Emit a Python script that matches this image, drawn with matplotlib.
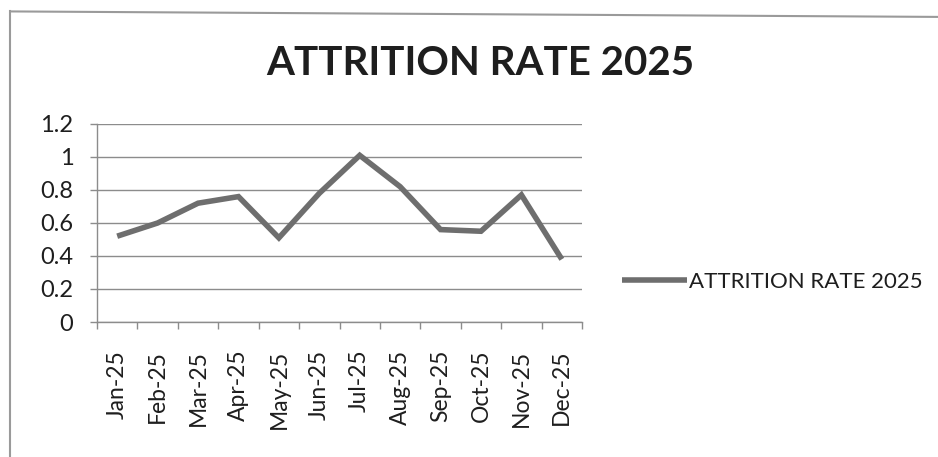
import numpy as np
import matplotlib.pyplot as plt
from matplotlib.lines import Line2D

# attrition rate per month
months = ['Jan-25', 'Feb-25', 'Mar-25', 'Apr-25', 'May-25', 'Jun-25',
          'Jul-25', 'Aug-25', 'Sep-25', 'Oct-25', 'Nov-25', 'Dec-25']
rate = [0.52, 0.60, 0.72, 0.76, 0.51, 0.78, 1.01, 0.82, 0.56, 0.55, 0.77, 0.38]
yticks = [0, 0.2, 0.4, 0.6, 0.8, 1, 1.2]
ytick_labels = ['0', '0.2', '0.4', '0.6', '0.8', '1', '1.2']
title = 'ATTRITION RATE 2025'

plt.rcParams['font.family'] = ['Lato', 'DejaVu Sans']
txt = '#1e1e1e'
grid = '#8c8c8c'

fig = plt.figure(figsize=(9.38, 4.57), dpi=100)
ax = fig.add_axes([0.1034, 0.2954, 0.5171, 0.4333])

x = np.arange(len(months))
ax.plot(x, rate, color='#6e6e6e', lw=4, solid_joinstyle='miter',
        solid_capstyle='butt', zorder=3)

ax.set_xlim(-0.5, len(months) - 0.5)
ax.set_ylim(0, 1.2)

# category boundaries get the tick marks, labels sit in between
ax.set_xticks(np.arange(len(months) + 1) - 0.5)
ax.set_xticklabels([])
ax.set_xticks(x, minor=True)
ax.set_xticklabels(months, minor=True, rotation=90, fontsize=16.5, color=txt)
ax.tick_params(axis='x', which='major', direction='out', length=5,
               width=1, color=grid)
ax.tick_params(axis='x', which='minor', length=0, pad=20)

ax.set_yticks(yticks)
ax.set_yticklabels(ytick_labels, fontsize=17, color=txt)
ax.tick_params(axis='y', direction='out', length=5, width=1, color=grid, pad=12)

ax.grid(axis='y', color=grid, lw=1)
ax.set_axisbelow(True)
for s in ['top', 'right']:
    ax.spines[s].set_visible(False)
for s in ['left', 'bottom']:
    ax.spines[s].set_color(grid)
    ax.spines[s].set_linewidth(1)

fig.text(0.512, 0.86, title, ha='center', va='center', fontsize=29,
         fontweight='bold', color=txt)

# legend on the right
handle = Line2D([], [], color='#6e6e6e', lw=4, solid_capstyle='butt')
fig.legend([handle], [title], loc='center left', bbox_to_anchor=(0.642, 0.383),
           frameon=False, fontsize=16, handlelength=2.9, handletextpad=0.12,
           labelcolor=txt)

# chart border (top and left edges visible in the scan)
fig.add_artist(Line2D([0.011, 1.0], [0.975, 0.963], color='#9a9a9a', lw=1.5,
                      transform=fig.transFigure))
fig.add_artist(Line2D([0.011, 0.011], [0.975, 0.0], color='#9a9a9a', lw=1.5,
                      transform=fig.transFigure))

fig.savefig('out.png', dpi=100, facecolor='white')
